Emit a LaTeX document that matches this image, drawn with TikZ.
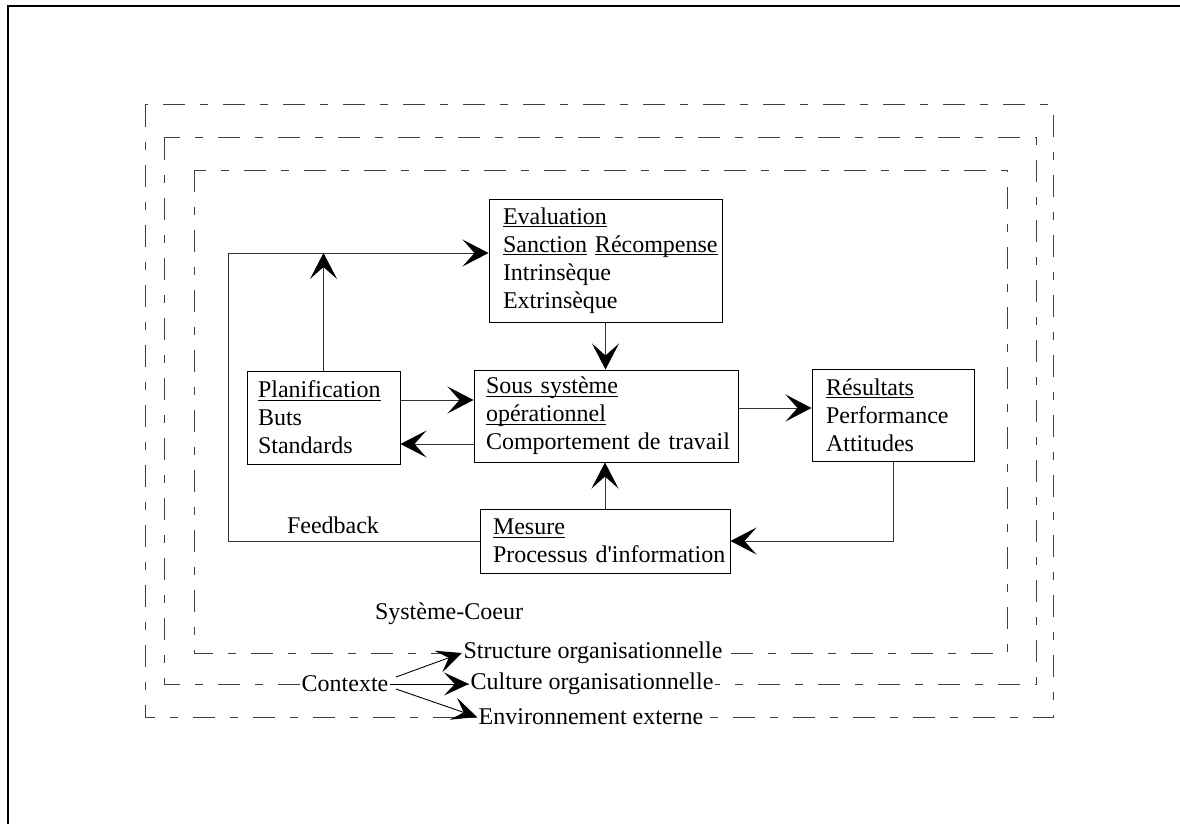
\documentclass[tikz,border=0pt]{standalone}
\usepackage{fontspec}
\setmainfont{Liberation Serif}
\usetikzlibrary{arrows.meta}

% underlined word with a fixed rule just below the baseline
\newcommand{\uword}[1]{\leavevmode\setbox0\hbox{#1}\rlap{\vrule width\wd0 height -1.9pt depth 3.2pt}\box0\relax}

\begin{document}
\begin{tikzpicture}[x=1pt,y=-1pt,
  every node/.style={font=\fontsize{24}{28}\selectfont, text=black},
  box/.style={draw=black, line width=1pt, align=left, inner ysep=0pt},
  conn/.style={draw=black!80, line width=1pt,
    -{Stealth[length=26pt,width=27pt,inset=12pt,color=black]}},
  ctxarrow/.style={draw=black, line width=0.9pt,
    -{Stealth[length=25pt,width=23pt,inset=11pt,color=black]}},
  layer/.style={draw=black!75, line width=1pt,
    dash pattern=on 22pt off 15pt on 8pt off 15pt},
  band/.style={fill=white, inner sep=1.5pt}]

\useasboundingbox (0,0) rectangle (1180,824);

% page frame (top and left edges)
\draw[line width=2.5pt] (8,824) -- (8,6) -- (1180,6);

% nested system layers
\draw[layer] (145,105) rectangle (1053,717);
\draw[layer] (164,138) rectangle (1036,684);
\draw[layer] (194,170) rectangle (1007,653);

% core system boxes
\node[box, text width=205pt, inner xsep=14pt, minimum height=123pt] (eval) at (605.5,260.5)
  {\uword{Evaluation}\\\mbox{\uword{Sanction} \uword{Récompense}}\\Intrinsèque\\Extrinsèque};
\node[box, text width=131pt, inner xsep=11pt, minimum height=93pt] (plan) at (323.5,417.5)
  {\uword{Planification}\\Buts\\Standards};
\node[box, text width=240pt, inner xsep=12pt, minimum height=92pt] (sous) at (606,416)
  {\uword{Sous système}\\\uword{opérationnel}\\\mbox{Comportement de travail}};
\node[box, text width=134pt, inner xsep=14pt, minimum height=92pt] (res) at (893,415)
  {\uword{Résultats}\\Performance\\Attitudes};
\node[box, text width=224pt, inner xsep=13pt, minimum height=64pt] (mes) at (605,541)
  {\uword{Mesure}\\\mbox{Processus d\textquotesingle information}};

% row levels for horizontal connectors
\coordinate (rowA) at (0,400);
\coordinate (rowB) at (0,444);
\coordinate (rowC) at (0,408);
\coordinate (fbcorner) at (228,253);

% connectors
\draw[conn] (eval.south) -- (eval.south |- sous.north);
\draw[conn] (plan.east |- rowA) -- (sous.west |- rowA);
\draw[conn] (sous.west |- rowB) -- (plan.east |- rowB);
\draw[conn] (sous.east |- rowC) -- (res.west |- rowC);
\draw[conn] (res.south) |- (mes.east);
\draw[conn] (mes.north) -- (mes.north |- sous.south);
\draw[conn] (mes.west) -| (fbcorner) -- (eval.west |- fbcorner);
\draw[conn] (plan.north) -- (plan.north |- fbcorner);

% labels
\node[anchor=base] (fb) at (333,533) {Feedback};
\node[anchor=base] (core) at (449,619) {Système-Coeur};
\node[band] (struct) at (593,653) {Structure organisationnelle};
\node[band] (cult) at (592,684) {Culture organisationnelle};
\node[band] (env) at (591,717) {Environnement externe};
\node[band] (ctx) at (345,684) {Contexte};

% context arrows
\draw[ctxarrow] ([shift={(6pt,7pt)}]ctx.east) -- (struct.west);
\draw[ctxarrow] (ctx.east) -- (cult.west);
\draw[ctxarrow] ([shift={(6pt,-5pt)}]ctx.east) -- (env.west);
\end{tikzpicture}
\end{document}
